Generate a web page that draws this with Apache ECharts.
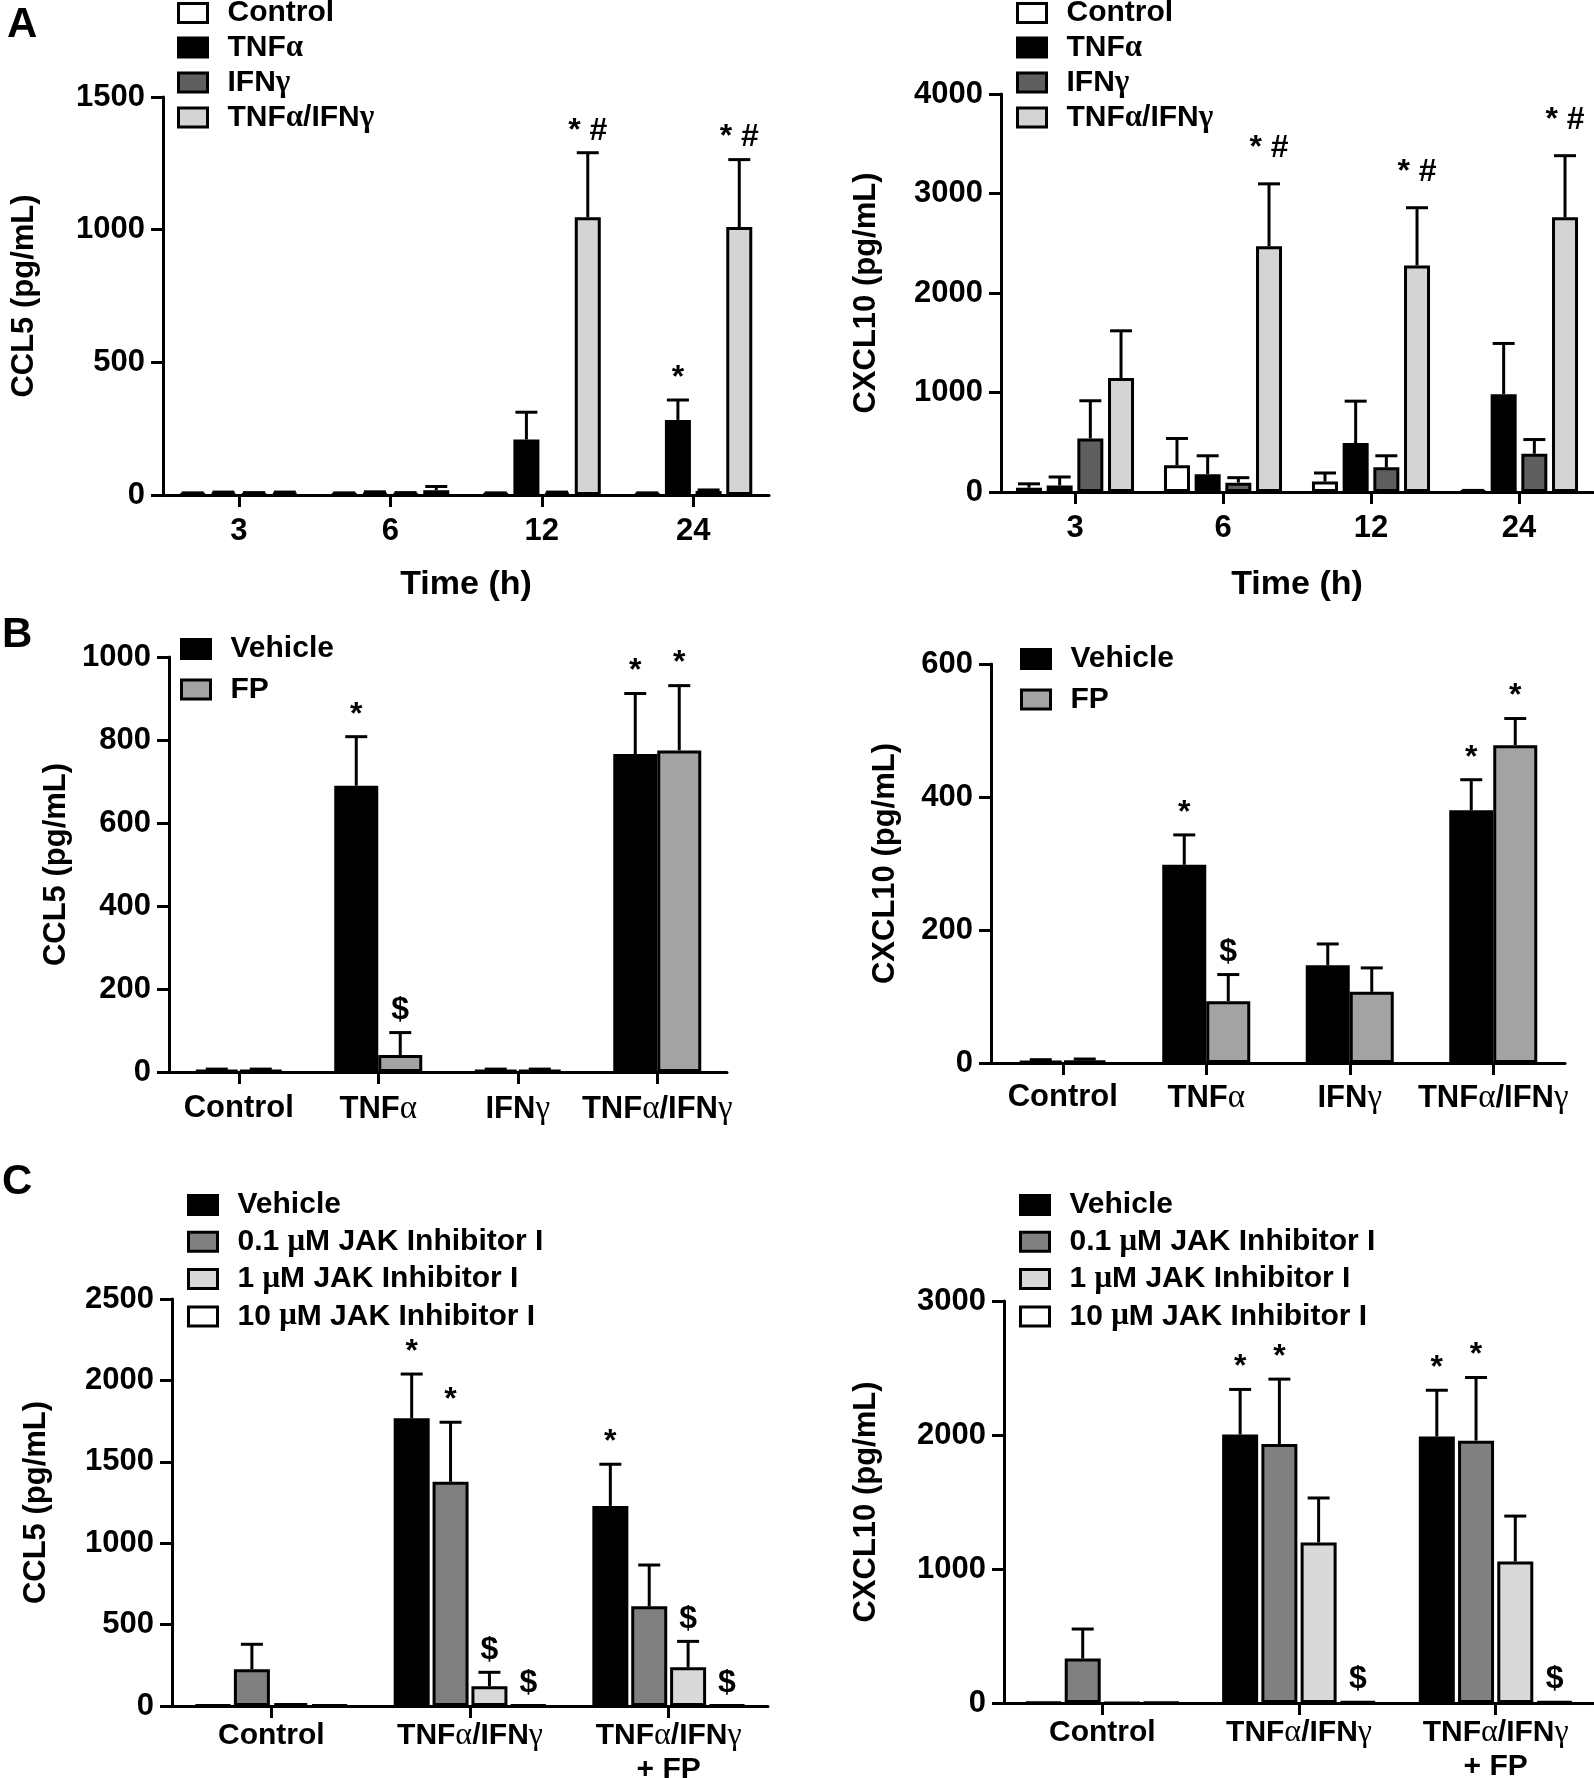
<!DOCTYPE html>
<html><head><meta charset="utf-8">
<script src="https://cdn.jsdelivr.net/npm/echarts@6/dist/echarts.min.js"></script>
<style>html,body{margin:0;padding:0;background:#fff}#c{width:1594px;height:1778px}</style>
</head><body><div id="c"></div>
<script>
// ---------- DATA ----------
const timeCategories = ['3', '6', '12', '24'];
const stimCategories = ['Control', 'TNFα', 'IFNγ', 'TNFα/IFNγ'];
const jakCategories = ['Control', 'TNFα/IFNγ', 'TNFα/IFNγ\n+ FP'];

const aSeriesNames = ['Control', 'TNFα', 'IFNγ', 'TNFα/IFNγ'];
const bSeriesNames = ['Vehicle', 'FP'];
const cSeriesNames = ['Vehicle', '0.1 μM JAK Inhibitor I', '1 μM JAK Inhibitor I', '10 μM JAK Inhibitor I'];

// Panel A left: CCL5 time course (rows = series, cols = time)
const aCCL5Mean = [[5, 5, 5, 5], [8, 8, 209, 283], [6, 6, 8, 15], [8, 18, 1047, 1010]];
const aCCL5Sem  = [[3, 3, 3, 3], [3, 4, 103, 75], [3, 3, 3, 4], [3, 14, 243, 254]];
const aCCL5Marks = [[3, 2, '* #'], [3, 3, '* #'], [1, 3, '*']];

// Panel A right: CXCL10 time course
const aCXCL10Mean = [[43, 268, 105, 12], [66, 179, 492, 983], [538, 94, 248, 384], [1145, 2470, 2277, 2761]];
const aCXCL10Sem  = [[39, 270, 86, 4], [85, 185, 421, 510], [379, 50, 116, 143], [475, 627, 580, 619]];
const aCXCL10Marks = [[3, 1, '* #'], [3, 2, '* #'], [3, 3, '* #']];

// Panel B left: CCL5 with FP
const bCCL5Mean = [[5, 690, 5, 766], [5, 41, 5, 775]];
const bCCL5Sem  = [[2, 118, 2, 146], [2, 54, 2, 156]];
const bCCL5Marks = [[0, 1, '*'], [1, 1, '$'], [0, 3, '*'], [1, 3, '*']];

// Panel B right: CXCL10 with FP
const bCXCL10Mean = [[3, 298, 147, 380], [4, 93, 107, 478]];
const bCXCL10Sem  = [[2, 45, 32, 46], [2, 40, 36, 40]];
const bCXCL10Marks = [[0, 1, '*'], [1, 1, '$'], [0, 3, '*'], [1, 3, '*']];

// Panel C left: CCL5 with JAK inhibitor
const cCCL5Mean = [[5, 1767, 1229], [225, 1377, 612], [18, 121, 238], [5, 5, 5]];
const cCCL5Sem  = [[0, 272, 256], [154, 366, 254], [0, 86, 159], [0, 0, 0]];
const cCCL5Marks = [[0, 1, '*'], [1, 1, '*'], [2, 1, '$'], [3, 1, '$'], [0, 2, '*'], [2, 2, '$'], [3, 2, '$']];

// Panel C right: CXCL10 with JAK inhibitor
const cCXCL10Mean = [[5, 2004, 1989], [332, 1933, 1958], [0, 1198, 1056], [5, 10, 10]];
const cCXCL10Sem  = [[0, 336, 345], [220, 484, 471], [0, 332, 339], [0, 0, 0]];
const cCXCL10Marks = [[0, 1, '*'], [1, 1, '*'], [3, 1, '$'], [0, 2, '*'], [1, 2, '*'], [3, 2, '$']];

// ---------- STYLE / LAYOUT ----------
const FONT = "'Liberation Sans', Arial, Helvetica, sans-serif";
const SERIF = "'Liberation Serif', 'DejaVu Serif', serif";
const aColors = ['#ffffff', '#000000', '#5f5f5f', '#d4d4d4'];
const bColors = ['#000000', '#a3a3a3'];
const cColors = ['#000000', '#808080', '#d9d9d9', '#ffffff'];

function greek(s) { return String(s).replace(/([αγμ])/g, '{g|$1}'); }

const option = {
  backgroundColor: '#ffffff',
  animation: false,
  grid: [], xAxis: [], yAxis: [], series: [], legend: [],
  graphic: [
    { type: 'text', left: 7, top: 4, style: { text: 'A', font: 'bold 42px ' + FONT, fill: '#000' } },
    { type: 'text', left: 2, top: 614, style: { text: 'B', font: 'bold 42px ' + FONT, fill: '#000' } },
    { type: 'text', left: 2, top: 1161, style: { text: 'C', font: 'bold 42px ' + FONT, fill: '#000' } }
  ]
};

function txt(size, extra) {
  return Object.assign({ fontSize: size, fontWeight: 'bold', color: '#000', fontFamily: FONT }, extra || {});
}

function addPanel(p) {
  const k = option.grid.length;
  const n = p.names.length;
  const markLift = 6 + (p.markLift || 0);
  option.grid.push({ left: p.left, top: p.top, width: p.width, height: p.height, containLabel: false, outerBoundsMode: 'none' });
  option.xAxis.push({
    type: 'category', gridIndex: k, data: p.cats,
    name: p.xName || '', nameLocation: 'middle', nameGap: p.xNameGap || 0, nameTextStyle: txt(34),
    axisLine: { show: true, lineStyle: { color: '#000', width: 3 } },
    axisTick: { show: true, alignWithLabel: true, length: 12, lineStyle: { color: '#000', width: 3 } },
    axisLabel: txt(p.xFont, {
      interval: 0, margin: p.xMargin, lineHeight: p.xLineHeight,
      formatter: function (v) { return greek(v); },
      rich: { g: { fontFamily: SERIF, fontWeight: 'normal', fontSize: p.xFont + 2, color: '#000', lineHeight: p.xLineHeight } }
    }),
    splitLine: { show: false }
  });
  option.yAxis.push({
    type: 'value', gridIndex: k, min: 0, max: p.yMax, interval: p.yInt,
    name: p.yName, nameLocation: 'middle', nameGap: p.yNameGap, nameTextStyle: txt(31),
    axisLine: { show: true, lineStyle: { color: '#000', width: 3 } },
    axisTick: { show: true, length: 12, lineStyle: { color: '#000', width: 3 } },
    axisLabel: txt(31, { margin: 18, formatter: function (v) { return String(v); } }),
    splitLine: { show: false }
  });
  p.names.forEach(function (nm, i) {
    option.series.push({
      type: 'bar', name: nm, xAxisIndex: k, yAxisIndex: k,
      data: p.means[i], barWidth: p.bw, barGap: (p.gap * 100) + '%',
      itemStyle: { color: p.colors[i], borderColor: '#000', borderWidth: 3 },
      emphasis: { disabled: true }, silent: true, z: 2
    });
  });
  const step = p.bw * (1 + p.gap);
  const errData = [];
  p.means.forEach(function (row, i) {
    row.forEach(function (m, j) { errData.push([j, m, p.sems[i][j], i]); });
  });
  option.series.push({
    type: 'custom', xAxisIndex: k, yAxisIndex: k, data: errData, z: 3, silent: true,
    encode: { x: 0, y: 1 },
    renderItem: function (params, api) {
      const c = api.value(0), m = api.value(1), s = api.value(2), i = api.value(3);
      if (!s) return { type: 'group', children: [] };
      const base = api.coord([c, m]);
      const top = api.coord([c, m + s]);
      const x = base[0] + (i - (n - 1) / 2) * step;
      return {
        type: 'group', children: [
          { type: 'line', shape: { x1: x, y1: base[1], x2: x, y2: top[1] }, style: { stroke: '#000', lineWidth: 3 } },
          { type: 'line', shape: { x1: x - 11, y1: top[1], x2: x + 11, y2: top[1] }, style: { stroke: '#000', lineWidth: 3 } }
        ]
      };
    }
  });
  const markData = p.marks.map(function (mk) {
    const i = mk[0], j = mk[1];
    return [j, p.means[i][j] + p.sems[i][j], i];
  });
  option.series.push({
    type: 'custom', xAxisIndex: k, yAxisIndex: k, data: markData, z: 4, silent: true,
    encode: { x: 0, y: 1 },
    renderItem: function (params, api) {
      const c = api.value(0), v = api.value(1), i = api.value(2);
      const pt = api.coord([c, v]);
      const x = pt[0] + (i - (n - 1) / 2) * step;
      return {
        type: 'text', x: x, y: pt[1] - markLift,
        style: { text: p.marks[params.dataIndex][2], fill: '#000', font: 'bold 32px ' + FONT, align: 'center', verticalAlign: 'bottom' }
      };
    }
  });
  option.legend.push({
    data: p.names, orient: 'vertical', left: p.legLeft, top: p.legTop, itemGap: p.legGap,
    itemWidth: 29, itemHeight: 19, padding: 0, icon: 'rect', selectedMode: false,
    itemStyle: { borderColor: '#000', borderWidth: 3 },
    formatter: function (name) { return greek(name); },
    textStyle: txt(30, {
      lineHeight: 24, padding: [0, 0, 0, 15],
      rich: { g: { fontFamily: SERIF, fontWeight: 'bold', fontSize: 31, color: '#000', lineHeight: 24 } }
    })
  });
}

addPanel({ left: 163, top: 97, width: 606, height: 398, cats: timeCategories, names: aSeriesNames, colors: aColors,
  means: aCCL5Mean, sems: aCCL5Sem, marks: aCCL5Marks, yMax: 1500, yInt: 500, yName: 'CCL5 (pg/mL)', yNameGap: 123,
  xName: 'Time (h)', xNameGap: 73, xFont: 31, xMargin: 21, bw: 26, gap: 0.18,
  legLeft: 177, legTop: -2, legGap: 4 });
addPanel({ left: 1001, top: 94, width: 592, height: 398, cats: timeCategories, names: aSeriesNames, colors: aColors,
  means: aCXCL10Mean, sems: aCXCL10Sem, marks: aCXCL10Marks, yMax: 4000, yInt: 1000, yName: 'CXCL10 (pg/mL)', yNameGap: 119,
  xName: 'Time (h)', xNameGap: 76, xFont: 31, xMargin: 21, bw: 26, gap: 0.18, markLift: 14,
  legLeft: 1016, legTop: -2, legGap: 4 });
addPanel({ left: 169, top: 657, width: 558, height: 415, cats: stimCategories, names: bSeriesNames, colors: bColors,
  means: bCCL5Mean, sems: bCCL5Sem, marks: bCCL5Marks, yMax: 1000, yInt: 200, yName: 'CCL5 (pg/mL)', yNameGap: 97,
  xFont: 31, xMargin: 21, bw: 44, gap: 0,
  legLeft: 180, legTop: 634, legGap: 10.5 });
addPanel({ left: 991, top: 664, width: 574, height: 399, cats: stimCategories, names: bSeriesNames, colors: bColors,
  means: bCXCL10Mean, sems: bCXCL10Sem, marks: bCXCL10Marks, yMax: 600, yInt: 200, yName: 'CXCL10 (pg/mL)', yNameGap: 90,
  xFont: 31, xMargin: 19, bw: 44, gap: 0,
  legLeft: 1020, legTop: 644, legGap: 10.5 });
addPanel({ left: 172, top: 1299, width: 596, height: 407, cats: jakCategories, names: cSeriesNames, colors: cColors,
  means: cCCL5Mean, sems: cCCL5Sem, marks: cCCL5Marks, yMax: 2500, yInt: 500, yName: 'CCL5 (pg/mL)', yNameGap: 120,
  xFont: 30, xMargin: 13, xLineHeight: 34, bw: 36, gap: 0.08,
  legLeft: 187, legTop: 1190, legGap: 6.3 });
addPanel({ left: 1004, top: 1301, width: 590, height: 402, cats: jakCategories, names: cSeriesNames, colors: cColors,
  means: cCXCL10Mean, sems: cCXCL10Sem, marks: cCXCL10Marks, yMax: 3000, yInt: 1000, yName: 'CXCL10 (pg/mL)', yNameGap: 122,
  xFont: 30, xMargin: 13, xLineHeight: 34, bw: 36, gap: 0.09,
  legLeft: 1019, legTop: 1190, legGap: 6.3 });

const chart = echarts.init(document.getElementById('c'), null, { renderer: 'canvas' });
chart.setOption(option);
</script>
</body></html>
